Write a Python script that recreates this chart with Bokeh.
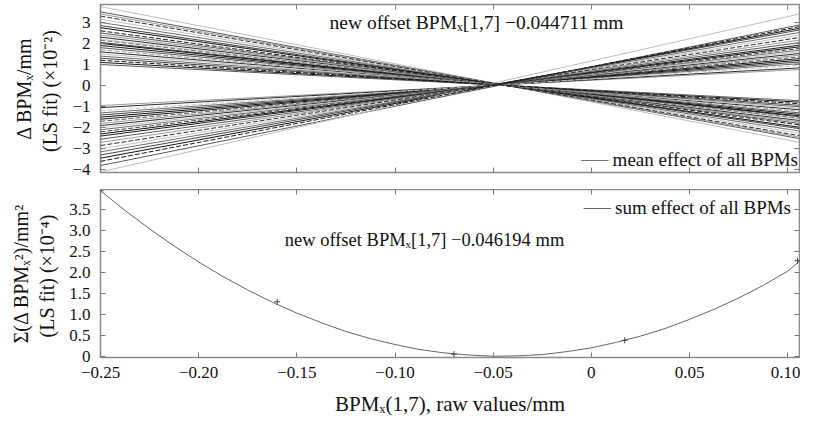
from bokeh.plotting import figure
from bokeh.layouts import column
from bokeh.models import Range1d, FixedTicker, LinearAxis, Label, CustomLabelingPolicy
from bokeh.embed import file_html
from bokeh.resources import INLINE

FONT = "Liberation Serif"

# ---------------- data ----------------
x_ends = [-0.25, 0.106]

# top panel: each BPM line given by value at left end and right end (x10^-2 mm)
left_vals = [3.75, 3.5, 3.4, 3.3, 3.15, 3.0, 2.85, 2.75, 2.6, 2.5, 2.4, 2.3, 2.2,
             2.15, 2.05, 2.0, 1.9, 1.8, 1.7, 1.6, 1.5, 1.4, 1.3, 1.2, 1.1, 1.0,
             -0.95, -1.05, -1.2, -1.3, -1.4, -1.5, -1.6, -1.7, -1.8, -1.9, -2.0, -2.1,
             -2.2, -2.3, -2.4, -2.55, -2.7, -2.85, -3.0, -3.15, -3.3, -3.45, -3.6, -3.8, -4.1]
right_vals = [-2.7, -2.52, -2.45, -2.38, -2.27, -2.16, -2.05, -1.98, -1.87, -1.8, -1.73, -1.66, -1.58,
              -1.55, -1.48, -1.44, -1.37, -1.3, -1.22, -1.15, -1.08, -1.01, -0.94, -0.86, -0.79, -0.72,
              0.76, 0.84, 0.96, 1.04, 1.12, 1.2, 1.28, 1.36, 1.44, 1.52, 1.6, 1.68,
              1.76, 1.84, 1.92, 2.04, 2.16, 2.28, 2.4, 2.52, 2.64, 2.72, 2.8, 2.88, 3.4]

# bottom panel: summed squared effect (x10^-4 mm^2)
sum_x = [-0.25, -0.2375, -0.225, -0.2125, -0.2, -0.1875, -0.175, -0.1625, -0.15, -0.1375,
         -0.125, -0.1125, -0.1, -0.0875, -0.075, -0.0625, -0.05, -0.0375, -0.025, -0.0125,
         0.0, 0.0125, 0.025, 0.0375, 0.05, 0.0625, 0.075, 0.0875, 0.1, 0.106]
sum_y = [3.95, 3.48, 3.04, 2.63, 2.25, 1.90, 1.58, 1.29, 1.03, 0.80,
         0.59, 0.42, 0.28, 0.16, 0.08, 0.03, 0.0, 0.01, 0.04, 0.11,
         0.20, 0.33, 0.48, 0.66, 0.88, 1.12, 1.39, 1.69, 2.03, 2.27]
meas_x = [-0.25, -0.16, -0.07, 0.017, 0.105]
meas_y = [3.95, 1.30, 0.05, 0.38, 2.28]

x_ticks = [-0.25, -0.20, -0.15, -0.10, -0.05, 0.0, 0.05, 0.10]
x_tick_labels = ["\u22120.25", "\u22120.20", "\u22120.15", "\u22120.10", "\u22120.05", "0", "0.05", "0.10"]
y1_ticks = [-4, -3, -2, -1, 0, 1, 2, 3]
y1_tick_labels = ["\u22124", "\u22123", "\u22122", "\u22121", "0", "1", "2", "3"]
y2_ticks = [0, 0.5, 1.0, 1.5, 2.0, 2.5, 3.0, 3.5]
y2_tick_labels = ["0", "0.5", "1.0", "1.5", "2.0", "2.5", "3.0", "3.5"]

# line styles for top panel
palette = ["#1a1a1a", "#5a5a5a", "#9a9a9a", "#2e2e2e", "#c4c4c4", "#707070", "#444444", "#111111"]
line_colors = [palette[i % len(palette)] for i in range(len(left_vals))]
line_colors[0] = "#bdbdbd"
line_colors[-1] = "#bdbdbd"

xr = Range1d(-0.25, 0.106)

NO_LABELS = CustomLabelingPolicy(code="""
for (const i of Array.from(indices)) { indices.unset(i) }
return indices
""")


def style_axis(ax, labels=None, font_size="17px"):
    ax.axis_line_color = None
    ax.major_tick_in = 5
    ax.major_tick_out = 0
    ax.major_tick_line_color = "#777777"
    ax.minor_tick_line_color = None
    if labels is None:
        ax.major_label_text_font_size = "0px"
        ax.major_label_standoff = 0
        ax.major_label_policy = NO_LABELS
    else:
        ax.major_label_overrides = labels
        ax.major_label_text_font = FONT
        ax.major_label_text_font_size = font_size
        ax.major_label_text_color = "#111111"
    ax.axis_label_text_font = FONT
    ax.axis_label_text_font_style = "normal"
    ax.axis_label_text_font_size = "20px"
    ax.axis_label_text_color = "#111111"


def make_fig(fh, yr, mb_top, mb_bottom):
    p = figure(frame_width=699, frame_height=fh, x_range=xr, y_range=yr,
               output_backend="svg", toolbar_location=None,
               min_border_left=100, min_border_right=1, min_border_top=mb_top,
               min_border_bottom=mb_bottom)
    p.grid.visible = False
    p.outline_line_color = "#8a8a8a"
    p.outline_line_width = 1.5
    p.background_fill_color = "white"
    p.border_fill_color = "white"
    return p


# ---------------- top panel ----------------
p1 = make_fig(168, Range1d(-4.13, 3.85), 4, 17)
xt = FixedTicker(ticks=x_ticks)
y1t = FixedTicker(ticks=y1_ticks)
p1.xaxis.ticker = xt
p1.yaxis.ticker = y1t
style_axis(p1.xaxis[0])
style_axis(p1.yaxis[0], {t: l for t, l in zip(y1_ticks, y1_tick_labels)})
p1.yaxis[0].major_label_standoff = 10
p1.yaxis[0].axis_label = "\u0394 BPM\u2093/mm\n(LS fit)  (\u00d710\u207b\u00b2)"
p1.yaxis[0].axis_label_standoff = 8
for loc in ("above", "right"):
    ax = LinearAxis(ticker=xt if loc == "above" else y1t)
    style_axis(ax)
    p1.add_layout(ax, loc)

solid_xs, solid_ys, solid_c = [], [], []
dash_xs, dash_ys, dash_c = [], [], []
for i, (l, r) in enumerate(zip(left_vals, right_vals)):
    if i % 5 == 3:
        dash_xs.append(x_ends); dash_ys.append([l, r]); dash_c.append(line_colors[i])
    else:
        solid_xs.append(x_ends); solid_ys.append([l, r]); solid_c.append(line_colors[i])
p1.multi_line(solid_xs, solid_ys, line_color=solid_c, line_width=1)
p1.multi_line(dash_xs, dash_ys, line_color=dash_c, line_width=1, line_dash="5 2")
p1.line([float("nan")], [float("nan")], line_color="#777777", line_width=1,
        legend_label="mean effect of all BPMs")

p1.add_layout(Label(x=-0.0585, y=3.0, text="new offset BPM\u2093[1,7] \u22120.044711 mm",
                    text_font=FONT, text_font_size="19.5px", text_color="#111111",
                    text_align="center", text_baseline="middle"))

# ---------------- bottom panel ----------------
p2 = make_fig(168, Range1d(-0.03, 3.98), 0, 62)
y2t = FixedTicker(ticks=y2_ticks)
p2.xaxis.ticker = xt
p2.yaxis.ticker = y2t
style_axis(p2.xaxis[0], {t: l for t, l in zip(x_ticks, x_tick_labels)})
p2.xaxis[0].major_label_standoff = 9
p2.xaxis[0].axis_label = "BPM\u2093(1,7), raw values/mm"
p2.xaxis[0].axis_label_standoff = 11
p2.xaxis[0].axis_label_text_font_size = "21px"
style_axis(p2.yaxis[0], {t: l for t, l in zip(y2_ticks, y2_tick_labels)})
p2.yaxis[0].major_label_standoff = 10
p2.yaxis[0].axis_label = "\u03a3(\u0394 BPM\u2093\u00b2)/mm\u00b2\n(LS fit)  (\u00d710\u207b\u2074)"
p2.yaxis[0].axis_label_standoff = 8
for loc in ("above", "right"):
    ax = LinearAxis(ticker=xt if loc == "above" else y2t)
    style_axis(ax)
    p2.add_layout(ax, loc)

p2.line(sum_x, sum_y, line_color="#666666", line_width=1, legend_label="sum effect of all BPMs")
p2.scatter(meas_x, meas_y, marker="cross", size=6, line_color="#444444", line_width=1)

p2.add_layout(Label(x=-0.085, y=2.78, text="new offset BPM\u2093[1,7] \u22120.046194 mm",
                    text_font=FONT, text_font_size="18.5px", text_color="#111111",
                    text_align="center", text_baseline="middle"))

for p, loc, mg in ((p1, "bottom_right", 1), (p2, "top_right", 8)):
    lg = p.legend[0]
    lg.location = loc
    lg.background_fill_alpha = 0
    lg.border_line_color = None
    lg.label_text_font = FONT
    lg.label_text_font_size = "19px"
    lg.label_text_color = "#111111"
    lg.glyph_width = 28
    lg.label_standoff = 4
    lg.margin = mg
    lg.padding = 3
    lg.spacing = 0

layout = column(p1, p2)
open("out.html", "w").write(file_html(layout, INLINE))
